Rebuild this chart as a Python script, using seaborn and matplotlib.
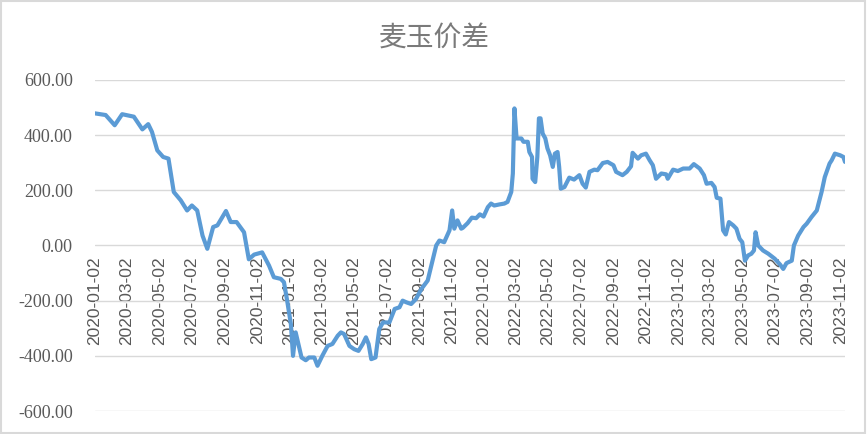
import matplotlib
matplotlib.use('Agg')
import matplotlib.pyplot as plt
import matplotlib.dates as mdates
from matplotlib.patches import Rectangle
import seaborn as sns
import pandas as pd

# wheat - corn spread
dates = [
    '2020-01-02', '2020-01-22', '2020-02-08', '2020-02-22', '2020-03-15', '2020-03-31',
    '2020-04-11', '2020-04-18', '2020-04-28', '2020-05-09', '2020-05-19', '2020-05-29',
    '2020-06-11', '2020-06-23', '2020-07-02', '2020-07-12', '2020-07-22', '2020-07-31',
    '2020-08-11', '2020-08-19', '2020-09-04', '2020-09-13', '2020-09-24', '2020-10-08',
    '2020-10-17', '2020-10-27', '2020-11-11', '2020-11-24', '2020-12-03', '2020-12-16',
    '2020-12-22', '2020-12-28', '2021-01-04', '2021-01-08', '2021-01-13', '2021-01-18',
    '2021-01-24', '2021-02-01', '2021-02-07', '2021-02-17', '2021-02-23', '2021-03-04',
    '2021-03-14', '2021-03-23', '2021-04-02', '2021-04-08', '2021-04-14', '2021-04-24',
    '2021-05-03', '2021-05-11', '2021-05-19', '2021-05-25', '2021-05-30', '2021-06-04',
    '2021-06-12', '2021-06-19', '2021-06-26', '2021-07-08', '2021-07-18', '2021-07-27',
    '2021-08-02', '2021-08-09', '2021-08-18', '2021-08-27', '2021-09-06', '2021-09-18',
    '2021-09-24', '2021-10-04', '2021-10-10', '2021-10-19', '2021-10-29', '2021-11-03',
    '2021-11-07', '2021-11-13', '2021-11-20', '2021-11-23', '2021-12-02', '2021-12-10',
    '2021-12-18', '2021-12-25', '2022-01-01', '2022-01-09', '2022-01-15', '2022-01-21',
    '2022-01-31', '2022-02-09', '2022-02-15', '2022-02-22', '2022-02-25', '2022-02-28',
    '2022-03-04', '2022-03-13', '2022-03-17', '2022-03-25', '2022-03-28', '2022-04-02',
    '2022-04-03', '2022-04-08', '2022-04-12', '2022-04-15', '2022-04-18', '2022-04-22',
    '2022-04-27', '2022-05-01', '2022-05-06', '2022-05-11', '2022-05-15', '2022-05-20',
    '2022-05-23', '2022-05-26', '2022-06-02', '2022-06-11', '2022-06-20', '2022-06-30',
    '2022-07-06', '2022-07-12', '2022-07-19', '2022-07-28', '2022-08-03', '2022-08-13',
    '2022-08-22', '2022-09-02', '2022-09-07', '2022-09-19', '2022-09-27', '2022-10-05',
    '2022-10-08', '2022-10-18', '2022-10-24', '2022-11-02', '2022-11-09', '2022-11-15',
    '2022-11-21', '2022-12-01', '2022-12-10', '2022-12-13', '2022-12-23', '2023-01-01',
    '2023-01-11', '2023-01-23', '2023-01-31', '2023-02-11', '2023-02-19', '2023-02-24',
    '2023-03-05', '2023-03-11', '2023-03-15', '2023-03-22', '2023-03-27', '2023-04-01',
    '2023-04-07', '2023-04-15', '2023-04-21', '2023-04-27', '2023-05-02', '2023-05-07',
    '2023-05-13', '2023-05-19', '2023-05-24', '2023-05-27', '2023-06-01', '2023-06-10',
    '2023-06-20', '2023-07-02', '2023-07-12', '2023-07-18', '2023-07-24', '2023-08-03',
    '2023-08-07', '2023-08-15', '2023-08-25', '2023-08-31', '2023-09-09', '2023-09-19',
    '2023-09-28', '2023-10-04', '2023-10-13', '2023-10-17', '2023-10-23', '2023-11-02',
    '2023-11-08', '2023-11-11',
]
spread = [
    479, 473, 436, 476, 467, 421,
    440, 412, 345, 321, 315, 194,
    164, 127, 145, 127, 36, -12,
    67, 73, 125, 85, 85, 48,
    -50, -33, -25, -73, -115, -121,
    -133, -200, -285, -400, -315, -357,
    -406, -416, -406, -406, -436, -400,
    -364, -357, -327, -315, -321, -364,
    -376, -382, -357, -333, -357, -412,
    -406, -303, -279, -279, -230, -224,
    -200, -206, -212, -194, -158, -127,
    -79, 0, 18, 12, 55, 127,
    61, 91, 61, 64, 81, 101,
    99, 113, 105, 139, 152, 145,
    149, 152, 158, 194, 261, 497,
    388, 388, 376, 376, 339, 321,
    242, 230, 321, 461, 461, 406,
    388, 352, 327, 285, 333, 339,
    285, 206, 212, 246, 239, 255,
    224, 210, 267, 275, 273, 299,
    303, 291, 267, 255, 267, 287,
    336, 315, 327, 333, 309, 291,
    242, 261, 258, 242, 275, 270,
    279, 279, 295, 279, 255, 224,
    227, 212, 173, 170, 55, 40,
    85, 73, 61, 24, 12, -55,
    -36, -30, -18, 48, 0, -18,
    -30, -48, -69, -85, -64, -55,
    0, 36, 67, 79, 103, 127,
    194, 248, 297, 309, 333, 327,
    321, 303,
]
yticks = [-600, -400, -200, 0, 200, 400, 600]
title = '麦玉价差'

df = pd.DataFrame({'date': pd.to_datetime(dates), 'spread': spread})

sns.set_style('white')
plt.rcParams['font.family'] = ['Noto Sans CJK SC', 'DejaVu Sans']

fig = plt.figure(figsize=(8.68, 4.34), dpi=100)
ax = fig.add_axes([95 / 868, 1 - 411 / 434, 750 / 868, 331 / 434])

sns.lineplot(data=df, x='date', y='spread', ax=ax, color='#5b9bd5', linewidth=3)

# x axis sits on the zero line, labels hang below it
ax.spines['bottom'].set_position(('data', 0))
for s in ax.spines.values():
    s.set_visible(False)

ax.set_ylim(-600, 600)
ax.set_xlim(df['date'].iloc[0], df['date'].iloc[-1])
ax.set_yticks(yticks)
ax.set_yticklabels([f'{v:.2f}' for v in yticks], family='Liberation Serif',
                   fontsize=13, color='#595959')
ax.yaxis.grid(True, color='#d9d9d9', linewidth=1)
ax.xaxis.grid(False)

xt = pd.date_range('2020-01-02', '2023-11-02', freq=pd.DateOffset(months=2))
ax.set_xticks(xt)
ax.set_xticklabels([d.strftime('%Y-%m-%d') for d in xt], rotation=90,
                   family='Liberation Sans', fontsize=12.5, color='#595959')
ax.tick_params(axis='x', length=0, pad=8)
ax.tick_params(axis='y', length=0, pad=16)
ax.set_xlabel('')
ax.set_ylabel('')

fig.text(0.5, 1 - 39 / 434, title, ha='center', va='center', fontsize=20,
         color='#7a7a7a', fontweight='light')
fig.patches.append(Rectangle((0.001, 0.002), 0.995, 0.995, transform=fig.transFigure,
                             fill=False, edgecolor='#d9d9d9', linewidth=1.5))

fig.savefig('out.png', dpi=100)
